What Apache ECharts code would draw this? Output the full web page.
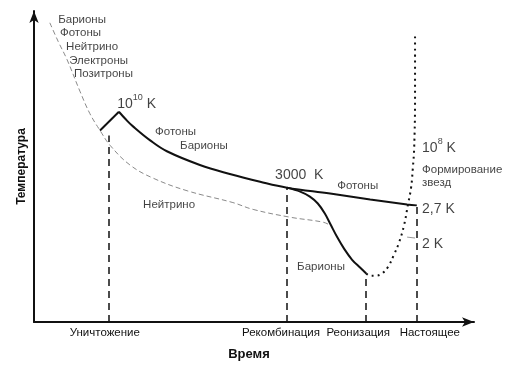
<!DOCTYPE html>
<html><head><meta charset="utf-8">
<script src="https://cdn.jsdelivr.net/npm/echarts@6/dist/echarts.min.js"></script>
<style>html,body{margin:0;padding:0;background:#fff}#c{width:523px;height:366px}</style>
</head><body><div id="c"></div>
<script>
// Arbitrary schematic units (time 0..100, temperature 0..100)
const earlyTime  = [3.6, 5.5, 7.5, 10.5, 12.7, 15.0, 17.3, 21.8, 27.0, 34.8, 45.2, 49.8, 58.2, 65.7, 67.3];
const earlyTemp  = [96.2, 90.2, 84.4, 74.0, 67.0, 61.6, 56.8, 50.5, 46.3, 42.2, 38.4, 36.2, 33.7, 32.1, 31.1];
const riseTime   = [15.0, 19.3];
const riseTemp   = [61.6, 67.6];
const photonTime = [19.3, 20.9, 22.5, 26.4, 30.2, 37.7, 44.5, 51.4, 57.5, 67.3, 76.4, 84.8, 87.0];
const photonTemp = [67.6, 65.1, 62.9, 58.4, 54.9, 50.5, 47.6, 45.1, 43.2, 41.3, 39.4, 37.8, 37.5];
const baryonTime = [57.5, 60.5, 62.7, 64.5, 66.1, 67.5, 68.9, 70.5, 72.3, 74.1, 75.5];
const baryonTemp = [43.2, 41.9, 40.3, 38.1, 34.9, 31.1, 27.3, 23.5, 20.0, 17.5, 15.6];
const starTime   = [75.5, 76.4, 77.7, 79.1, 80.5, 81.8, 83.0, 84.1, 85.0, 85.7, 86.1, 86.4, 86.6, 86.6];
const starTemp   = [15.6, 14.9, 14.9, 15.6, 17.8, 21.6, 25.7, 31.1, 37.8, 43.2, 49.5, 55.9, 71.7, 92.4];
const leaderTime = [84.8, 86.6];
const leaderTemp = [27.3, 27.0];
const eventNames = ['Уничтожение', 'Рекомбинация', 'Реонизация', 'Настоящее'];
const eventTime  = [17.0, 57.5, 75.5, 87.0];
const eventTop   = [60.0, 43.2, 15.6, 37.5];
const noteText = ['Барионы', 'Фотоны', 'Нейтрино', 'Электроны', 'Позитроны',
  '{b|10}{s|10}{b| K}', 'Фотоны', 'Барионы', '{b|3000  K}', 'Фотоны', 'Нейтрино', 'Барионы',
  '{b|10}{s|8}{b| K}', 'Формирование', 'звезд', '{b|2,7 K}', '{b|2 K}'];
const noteTime = [5.5, 5.9, 7.3, 8.0, 9.1, 18.9, 27.5, 33.2, 54.8, 68.9, 24.8, 59.8, 88.2, 88.2, 88.2, 88.2, 88.2];
const noteTemp = [97.1, 93.0, 88.6, 84.1, 79.7, 70.8, 61.3, 56.8, 47.9, 43.8, 37.8, 17.8, 56.5, 48.9, 44.8, 36.8, 25.7];

const labelShift = [-4, -6, -8, 13];
const zip = (a, b) => a.map((v, i) => [v, b[i]]);
const FONT = 'Liberation Sans';

const chart = echarts.init(document.getElementById('c'), null, {renderer: 'canvas'});
const black = '#111';
chart.setOption({
  animation: false,
  backgroundColor: '#fff',
  grid: {left: 34, right: 49, top: 11, bottom: 40},
  xAxis: {
    type: 'value', min: 0, max: 100,
    name: 'Время', nameLocation: 'middle', nameGap: 26,
    nameTextStyle: {fontFamily: FONT, fontWeight: 'bold', fontSize: 13, color: '#111', padding: [0, 10, 0, 0]},
    axisLine: {show: true, symbol: ['none', 'arrow'], symbolSize: [7, 12], lineStyle: {color: black, width: 2}},
    axisTick: {show: false}, axisLabel: {show: false}, splitLine: {show: false}
  },
  yAxis: {
    type: 'value', min: 0, max: 100,
    name: 'Температура', nameLocation: 'middle', nameGap: 6, nameRotate: 90,
    nameTextStyle: {fontFamily: FONT, fontWeight: 'bold', fontSize: 12, color: '#111'},
    axisLine: {show: true, symbol: ['none', 'arrow'], symbolSize: [7, 12], lineStyle: {color: black, width: 2}},
    axisTick: {show: false}, axisLabel: {show: false}, splitLine: {show: false}
  },
  series: [
    {type: 'line', data: zip(earlyTime, earlyTemp), smooth: 0.4, showSymbol: false,
     lineStyle: {color: '#8a8a8a', width: 1, type: [5, 3]}, z: 2,
     markLine: {
       silent: true, symbol: ['none', 'none'],
       lineStyle: {color: black, width: 1.5, type: [7, 5]},
       label: {show: true, position: 'start', fontFamily: FONT, fontSize: 11.5, color: '#111', distance: 5},
       data: eventNames.map((n, i) => [
         {coord: [eventTime[i], 0], name: n, label: {formatter: n, offset: [labelShift[i], 0]}},
         {coord: [eventTime[i], eventTop[i]]}
       ])
     }},
    {type: 'line', data: zip(riseTime, riseTemp), showSymbol: false, lineStyle: {color: black, width: 2}, z: 3},
    {type: 'line', data: zip(photonTime, photonTemp), smooth: 0.4, showSymbol: false, lineStyle: {color: black, width: 2}, z: 3},
    {type: 'line', data: zip(baryonTime, baryonTemp), smooth: 0.35, showSymbol: false, lineStyle: {color: black, width: 2}, z: 3},
    {type: 'line', data: zip(starTime, starTemp), smooth: 0.4, showSymbol: false, lineStyle: {color: black, width: 2, type: [2, 4]}, z: 3},
    {type: 'line', data: zip(leaderTime, leaderTemp), showSymbol: false, lineStyle: {color: '#999', width: 1}, z: 2},
    {type: 'scatter', symbolSize: 0, silent: true, z: 5,
     data: noteTime.map((t, i) => ({value: [t, noteTemp[i]], label: {formatter: noteText[i]}})),
     label: {show: true, position: 'right', distance: 0, fontFamily: FONT, fontSize: 11.5, color: '#111',
       rich: {
         b: {fontFamily: FONT, fontSize: 14, color: '#111', lineHeight: 18, verticalAlign: 'bottom'},
         s: {fontFamily: FONT, fontSize: 9, color: '#111', lineHeight: 18, verticalAlign: 'top'}
       }}}
  ]
});
</script></body></html>
